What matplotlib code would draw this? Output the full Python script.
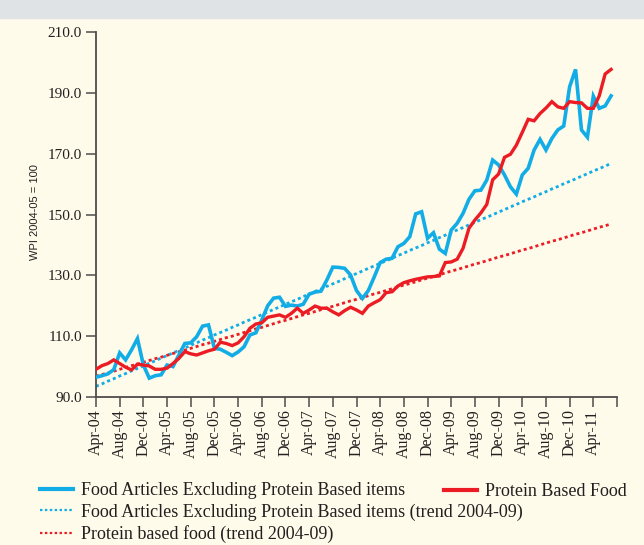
import matplotlib
matplotlib.use("Agg")
import matplotlib.pyplot as plt
from matplotlib.lines import Line2D
from matplotlib.patches import Rectangle

# ---- data (monthly, Apr-2004 .. Jul-2011) ----
food_ex_protein = [
    96.5, 97.0, 97.6, 99.0, 104.5, 102.2, 105.5, 109.2, 100.5, 96.2,
    97.0, 97.3, 100.5, 100.0, 103.8, 107.6, 107.8, 109.8, 113.3, 113.7,
    106.0, 105.7, 104.7, 103.6, 104.8, 106.5, 110.4, 111.1, 115.3, 120.0,
    122.5, 122.8, 119.8, 120.2, 119.9, 120.5, 123.8, 124.5, 124.8, 128.5,
    132.7, 132.6, 132.3, 130.1, 125.0, 122.4, 125.0, 129.5, 134.2, 135.3,
    135.6, 139.4, 140.5, 142.7, 150.2, 150.9, 142.2, 144.0, 138.6, 137.2,
    144.9, 147.1, 150.4, 155.0, 157.8, 158.0, 161.3, 167.9, 166.3, 163.0,
    159.1, 156.7, 163.0, 165.2, 171.2, 174.7, 171.2, 175.0, 177.8, 179.1,
    192.0, 197.7, 177.8, 175.4, 188.9, 184.9, 185.7, 189.0,
]
protein_food = [
    99.1, 100.3, 101.0, 102.2, 101.0, 99.8, 98.9, 100.8, 100.5, 100.2,
    99.1, 99.1, 99.5, 101.0, 102.7, 104.9, 104.2, 103.8, 104.5, 105.2,
    105.7, 108.0, 107.6, 106.9, 107.8, 109.8, 112.6, 114.0, 114.4, 116.2,
    116.6, 117.0, 116.2, 117.5, 119.2, 117.5, 118.6, 119.9, 119.2, 119.2,
    118.0, 117.0, 118.4, 119.5, 118.6, 117.5, 119.9, 121.0, 122.0, 124.3,
    124.6, 126.5, 127.6, 128.2, 128.7, 129.1, 129.5, 129.6, 129.8, 134.2,
    134.4, 135.3, 138.9, 145.5, 148.2, 150.5, 153.3, 161.4, 163.3, 168.8,
    169.8, 172.8, 177.0, 181.3, 180.8, 183.2, 185.0, 187.1, 185.4, 184.9,
    187.1, 186.8, 186.7, 184.9, 184.9, 189.0, 196.2, 197.7,
]
food_ex_protein_trend = [
    93.5, 94.3, 95.2, 96.0, 96.9, 97.7, 98.6, 99.4, 100.2, 101.1,
    101.9, 102.8, 103.6, 104.5, 105.3, 106.1, 107.0, 107.8, 108.7, 109.5,
    110.4, 111.2, 112.0, 112.9, 113.7, 114.6, 115.4, 116.2, 117.1, 117.9,
    118.8, 119.6, 120.5, 121.3, 122.1, 123.0, 123.8, 124.7, 125.5, 126.4,
    127.2, 128.0, 128.9, 129.7, 130.6, 131.4, 132.3, 133.1, 133.9, 134.8,
    135.6, 136.5, 137.3, 138.2, 139.0, 139.8, 140.7, 141.5, 142.4, 143.2,
    144.1, 144.9, 145.7, 146.6, 147.4, 148.3, 149.1, 149.9, 150.8, 151.6,
    152.5, 153.3, 154.2, 155.0, 155.8, 156.7, 157.5, 158.4, 159.2, 160.1,
    160.9, 161.7, 162.6, 163.4, 164.3, 165.1, 165.9, 166.8,
]
protein_food_trend = [
    96.8, 97.4, 97.9, 98.5, 99.1, 99.7, 100.3, 100.8, 101.4, 102.0,
    102.6, 103.1, 103.7, 104.3, 104.9, 105.4, 106.0, 106.6, 107.2, 107.7,
    108.3, 108.9, 109.5, 110.0, 110.6, 111.2, 111.8, 112.4, 112.9, 113.5,
    114.1, 114.7, 115.2, 115.8, 116.4, 117.0, 117.5, 118.1, 118.7, 119.3,
    119.8, 120.4, 121.0, 121.6, 122.1, 122.7, 123.3, 123.9, 124.4, 125.0,
    125.6, 126.2, 126.8, 127.3, 127.9, 128.5, 129.1, 129.6, 130.2, 130.8,
    131.4, 131.9, 132.5, 133.1, 133.7, 134.2, 134.8, 135.4, 136.0, 136.5,
    137.1, 137.7, 138.3, 138.8, 139.4, 140.0, 140.6, 141.2, 141.7, 142.3,
    142.9, 143.5, 144.0, 144.6, 145.2, 145.8, 146.3, 146.9,
]
tick_labels = ["Apr-04", "Aug-04", "Dec-04", "Apr-05", "Aug-05", "Dec-05",
               "Apr-06", "Aug-06", "Dec-06", "Apr-07", "Aug-07", "Dec-07",
               "Apr-08", "Aug-08", "Dec-08", "Apr-09", "Aug-09", "Dec-09",
               "Apr-10", "Aug-10", "Dec-10", "Apr-11"]
y_ticks = [90, 110, 130, 150, 170, 190, 210]

labels = ["Food Articles Excluding Protein Based items",
          "Protein Based Food",
          "Food Articles Excluding Protein Based items (trend 2004-09)",
          "Protein based food (trend 2004-09)"]

BLUE = "#12ade6"
RED = "#ec1c24"
BG = "#fffbea"
TXT = "#231f20"
SERIF = ["Liberation Serif", "DejaVu Serif"]

W, H = 644, 545
fig = plt.figure(figsize=(W / 100, H / 100), dpi=100, facecolor=BG)
fig.patches.append(Rectangle((0, 1 - 18 / H), 1, 18 / H, transform=fig.transFigure,
                             color="#dfe3e6", zorder=0))

ax = fig.add_axes([96 / W, 1 - 397 / H, (617 - 96) / W, (397 - 32) / H])
ax.set_facecolor("none")

months = list(range(len(food_ex_protein)))
ax.plot(months, food_ex_protein_trend, color=BLUE, lw=2.0, ls=(0, (1.1, 1.1)), zorder=2)
ax.plot(months, protein_food_trend, color=RED, lw=2.0, ls=(0, (1.1, 1.1)), zorder=2)
ax.plot(months, food_ex_protein, color=BLUE, lw=2.6, zorder=3, solid_joinstyle="miter")
ax.plot(months, protein_food, color=RED, lw=2.4, zorder=4, solid_joinstyle="miter")

ax.set_xlim(0, 88)
ax.set_ylim(90, 210)
ax.set_xticks(list(range(0, 89, 4)))
ax.set_xticklabels(tick_labels + [""], rotation=90, fontsize=11.5, family=SERIF, color=TXT)
ax.set_yticks(y_ticks)
ax.set_yticklabels([f"{v:.1f}" for v in y_ticks], fontsize=11, family=SERIF, color=TXT)
ax.tick_params(axis="both", direction="out", length=7, width=1.1, color="#4d4d4d")
ax.tick_params(axis="x", pad=2)
ax.tick_params(axis="y", pad=3)
for s in ["top", "right"]:
    ax.spines[s].set_visible(False)
for s in ["left", "bottom"]:
    ax.spines[s].set_color("#4d4d4d")
    ax.spines[s].set_linewidth(1.3)

fig.text(35 / W, 1 - 212 / H, "WPI 2004-05 = 100", rotation=90, ha="center", va="center",
         fontsize=8, family=["Liberation Sans", "DejaVu Sans"], color=TXT)

h_blue = Line2D([], [], color=BLUE, lw=3.0)
h_red = Line2D([], [], color=RED, lw=3.0)
h_blue_t = Line2D([], [], color=BLUE, lw=1.6, ls=(0, (1.1, 1.1)))
h_red_t = Line2D([], [], color=RED, lw=1.6, ls=(0, (1.1, 1.1)))

leg_kw = dict(frameon=False, borderpad=0, borderaxespad=0, handlelength=1.85,
              handletextpad=0.4, labelspacing=0.24,
              prop={"family": SERIF, "size": 13}, labelcolor=TXT)
leg1 = fig.legend([h_blue, h_blue_t, h_red_t], [labels[0], labels[2], labels[3]],
                  loc="upper left", bbox_to_anchor=(40 / W, 1 - 482 / H), **leg_kw)
leg2 = fig.legend([h_red], [labels[1]], loc="upper left",
                  bbox_to_anchor=(444 / W, 1 - 483 / H), **leg_kw)

fig.savefig("out.png", dpi=100, facecolor=BG)
